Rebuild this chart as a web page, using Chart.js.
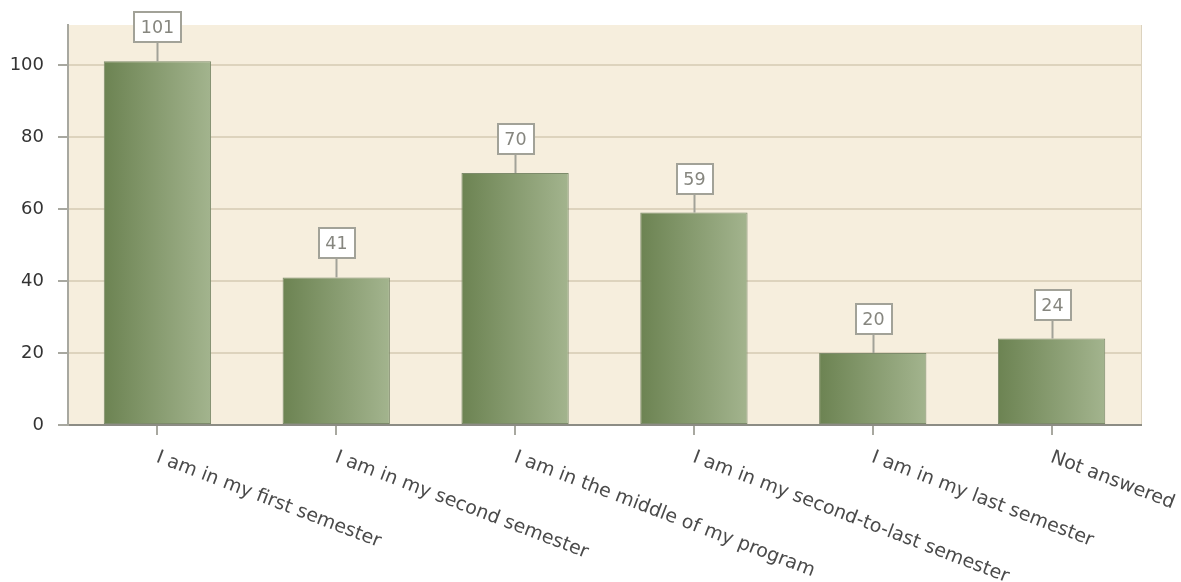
<!DOCTYPE html>
<html>
<head>
<meta charset="utf-8">
<script src="https://cdn.jsdelivr.net/npm/chart.js@4"></script>
<style>
html,body{margin:0;padding:0;background:#fff;}
#wrap{width:1181px;height:582px;position:relative;}
</style>
</head>
<body>
<div id="wrap"><canvas id="c" width="1181" height="582"></canvas></div>
<script>
const categories = [
  "I am in my first semester",
  "I am in my second semester",
  "I am in the middle of my program",
  "I am in my second-to-last semester",
  "I am in my last semester",
  "Not answered"
];
const counts = [101, 41, 70, 59, 20, 24];
const yTicks = [0, 20, 40, 60, 80, 100];
const yMax = 111.1;

const FONT = '"DejaVu Sans", Verdana, sans-serif';

const bgPlugin = {
  id: 'bg',
  beforeDraw(chart) {
    const {ctx, chartArea: a} = chart;
    ctx.save();
    ctx.fillStyle = '#f6eedd';
    ctx.fillRect(a.left, a.top, a.right - a.left, a.bottom - a.top);
    ctx.strokeStyle = '#dcd3bf';
    ctx.lineWidth = 1;
    ctx.beginPath();
    ctx.moveTo(a.right + 0.5, a.top);
    ctx.lineTo(a.right + 0.5, a.bottom);
    ctx.stroke();
    ctx.restore();
  }
};

const labelPlugin = {
  id: 'lbls',
  afterDatasetsDraw(chart) {
    const {ctx} = chart;
    const meta = chart.getDatasetMeta(0);
    ctx.save();
    ctx.font = '17.5px ' + FONT;
    ctx.textAlign = 'center';
    ctx.textBaseline = 'middle';
    meta.data.forEach((el, i) => {
      const txt = String(counts[i]);
      const x = Math.round(el.x) + 0.5;
      const top = el.y;
      const lineLen = 19;
      const bh = 30;
      const bw = Math.round(ctx.measureText(txt).width + 14);
      ctx.strokeStyle = '#a2a298';
      ctx.lineWidth = 2;
      ctx.beginPath();
      ctx.moveTo(x, top);
      ctx.lineTo(x, top - lineLen);
      ctx.stroke();
      const by = Math.round(top - lineLen - bh);
      const bx = Math.round(x - bw / 2);
      ctx.fillStyle = '#ffffff';
      ctx.fillRect(bx, by, bw, bh);
      ctx.strokeRect(bx, by, bw, bh);
      ctx.fillStyle = '#86867f';
      ctx.fillText(txt, x, by + bh / 2 + 1);
    });
    ctx.restore();
  },
  afterDraw(chart) {
    const {ctx} = chart;
    const xs = chart.scales.x;
    ctx.save();
    ctx.font = '19px ' + FONT;
    ctx.fillStyle = '#4a4a4a';
    ctx.textAlign = 'left';
    ctx.textBaseline = 'top';
    const ang = 21 * Math.PI / 180;
    categories.forEach((lab, i) => {
      const x = xs.getPixelForTick(i) + 3;
      const y = xs.top + 23;
      ctx.save();
      ctx.translate(x, y);
      ctx.rotate(ang);
      ctx.fillText(lab, 0, 0);
      ctx.restore();
    });
    ctx.restore();
  }
};

function barGradient(context) {
  const chart = context.chart;
  const xs = chart.scales.x;
  if (!chart.chartArea || !xs || context.dataIndex === undefined) return '#8a9c72';
  const cx = xs.getPixelForValue(context.dataIndex);
  const w = (xs.width / categories.length) * 0.6;
  const g = chart.ctx.createLinearGradient(cx - w / 2, 0, cx + w / 2, 0);
  g.addColorStop(0, '#6c8352');
  g.addColorStop(1, '#a3b48e');
  return g;
}

new Chart(document.getElementById('c'), {
  type: 'bar',
  data: {
    labels: categories,
    datasets: [{
      data: counts,
      backgroundColor: barGradient,
      borderColor: '#7d8b6b',
      borderWidth: 1,
      borderSkipped: false,
      barPercentage: 0.6,
      categoryPercentage: 1.0
    }]
  },
  options: {
    responsive: false,
    animation: false,
    devicePixelRatio: 1,
    layout: {padding: {left: 0, top: 25, right: 40, bottom: 0}},
    plugins: {legend: {display: false}, tooltip: {enabled: false}},
    scales: {
      x: {
        afterFit(s) { s.height = 157; },
        grid: {display: true, offset: false, drawOnChartArea: false, drawTicks: true, tickLength: 10, tickColor: '#a8a8a0', lineWidth: 2},
        border: {display: true, color: '#8c8c84', width: 2},
        ticks: {display: false}
      },
      y: {
        min: 0,
        max: yMax,
        afterFit(s) { s.width = 68; },
        afterBuildTicks(s) { s.ticks = yTicks.map(v => ({value: v})); },
        grid: {color: '#ddd3bd', lineWidth: 2, tickLength: 10, tickColor: '#a8a8a0', drawTicks: true},
        border: {display: true, color: '#a8a8a0', width: 2},
        ticks: {
          padding: 14,
          color: '#333333',
          font: {family: FONT, size: 18}
        }
      }
    }
  },
  plugins: [bgPlugin, labelPlugin]
});
</script>
</body>
</html>
